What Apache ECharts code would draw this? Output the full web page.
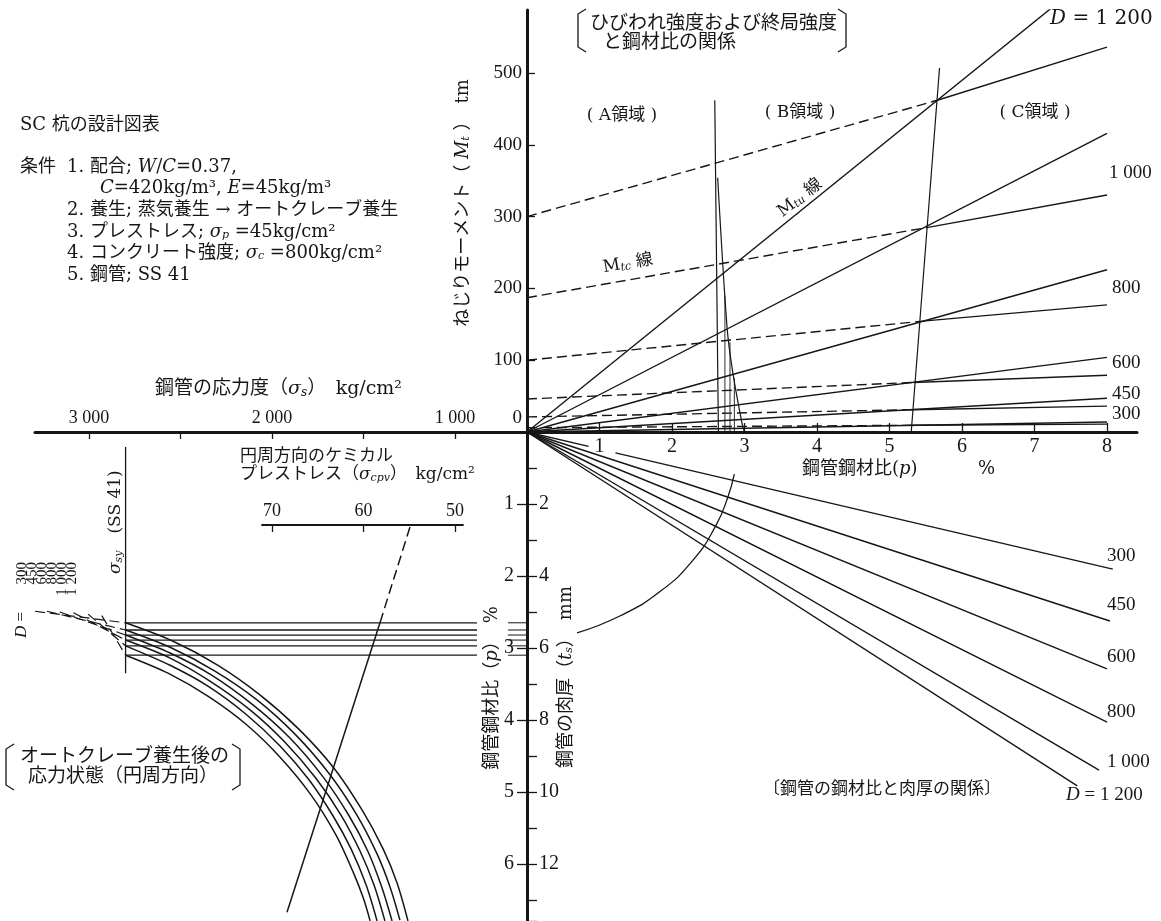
<!DOCTYPE html>
<html>
<head>
<meta charset="utf-8">
<title>SC杭の設計図表</title>
<script src="https://cdn.jsdelivr.net/npm/echarts@6.0.0/dist/echarts.min.js"></script>
<style>
html,body{margin:0;padding:0;background:#ffffff;}
#chart{width:1161px;height:921px;}
</style>
</head>
<body>
<div id="chart"></div>
<script>
// ---------------- tick values / labels ----------------
const diameters = ['300', '450', '600', '800', '1 000', '1 200'];
const sigmaSTickValues = [1000, 1500, 2000, 2500, 3000];
const sigmaSLabelValues = [1000, 2000, 3000];
const sigmaCpvTickValues = [50, 60, 70];

// ---------------- upper right: Mt (tm) vs p (%) ----------------
// ultimate torsional strength lines (Mtu), from origin
const mtu300 = [[0, 0], [8, 14]];
const mtu450 = [[0, 0], [8, 47]];
const mtu600 = [[0, 0], [8, 104]];
const mtu800 = [[0, 0], [8, 226]];
const mtu1000 = [[0, 0], [8, 416]];
const mtu1200 = [[0, 0], [8, 653]];
// cracking strength lines (Mtc): dashed part up to C boundary, solid beyond
const mtc300Dash = [[0, 6], [5.30, 9.3]];
const mtc300Solid = [[5.30, 9.3], [8, 11]];
const mtc450Dash = [[0, 21], [5.31, 31]];
const mtc450Solid = [[5.31, 31], [8, 36]];
const mtc600Dash = [[0, 46], [5.33, 69]];
const mtc600Solid = [[5.33, 69], [8, 79]];
const mtc800Dash = [[0, 100], [5.42, 154]];
const mtc800Solid = [[5.42, 154], [8, 177]];
const mtc1000Dash = [[0, 187], [5.53, 285]];
const mtc1000Solid = [[5.53, 285], [8, 330]];
const mtc1200Dash = [[0, 300], [5.66, 462]];
const mtc1200Solid = [[5.66, 462], [8, 536]];
// region boundaries
const boundaryAB = [[2.59, 462], [2.64, 0]];
const boundaryABSpike = [[2.63, 354], [2.76, 145], [2.84, 82], [2.97, 10], [3.0, 0]];
const boundaryC = [[5.69, 507], [5.30, 0]];
const dropA = [[2.73, 190], [2.73, 0]];
const dropB = [[2.80, 125], [2.80, 0]];
const dropC = [[2.86, 75], [2.86, 0]];

// ---------------- lower right: ts (mm) vs p (%) ----------------
const lr300a = [[0, 0], [0.85, 0.40]];
const lr300b = [[1.22, 0.58], [8.08, 3.81]];
const lr450 = [[0, 0], [8.04, 5.25]];
const lr600 = [[0, 0], [8.0, 6.58]];
const lr800 = [[0, 0], [8.0, 8.06]];
const lr1000 = [[0, 0], [7.89, 9.39]];
const lr1200 = [[0, 0], [7.59, 9.83]];
const leaderCurve = [[0.69, 5.58], [1.28, 5.11], [1.83, 4.44], [2.29, 3.56], [2.61, 2.58], [2.77, 1.81], [2.86, 1.17]];

// ---------------- lower left: p (%) vs sigma_s (kg/cm2) ----------------
const sigmaSYLine = [[2800, 0.21], [2800, 3.35]];
const yieldP = [2.65, 2.75, 2.82, 2.89, 2.97, 3.10];
const curve300 = [[2800, 2.65], [2546, 2.90], [2295, 3.24], [2066, 3.65], [1852, 4.13], [1661, 4.67], [1508, 5.25], [1393, 5.79], [1317, 6.26], [1257, 6.79]];
const curve450 = [[2800, 2.75], [2557, 2.99], [2312, 3.32], [2082, 3.72], [1869, 4.21], [1683, 4.76], [1536, 5.32], [1426, 5.86], [1355, 6.32], [1301, 6.78]];
const curve600 = [[2800, 2.82], [2557, 3.07], [2328, 3.38], [2104, 3.79], [1902, 4.25], [1721, 4.79], [1579, 5.33], [1475, 5.83], [1399, 6.33], [1344, 6.79]];
const curve800 = [[2800, 2.89], [2557, 3.14], [2339, 3.46], [2120, 3.86], [1929, 4.31], [1760, 4.81], [1623, 5.32], [1519, 5.82], [1443, 6.29], [1383, 6.79]];
const curve1000 = [[2800, 2.97], [2557, 3.24], [2350, 3.53], [2142, 3.92], [1956, 4.36], [1798, 4.83], [1667, 5.33], [1568, 5.79], [1486, 6.29], [1426, 6.79]];
const curve1200 = [[2800, 3.10], [2568, 3.35], [2344, 3.68], [2137, 4.07], [1951, 4.53], [1787, 5.04], [1650, 5.60], [1557, 6.11], [1503, 6.46], [1464, 6.79]];
const ext300 = [[3295, 2.49], [2800, 2.65]];
const ext450 = [[3230, 2.49], [2800, 2.75]];
const ext600 = [[3160, 2.50], [2800, 2.82]];
const ext800 = [[3085, 2.51], [2800, 2.89]];
const ext1000 = [[3005, 2.53], [2800, 2.97]];
const ext1200 = [[2930, 2.55], [2800, 3.10]];
const exampleDashed = [[1246, 1.32], [1410, 2.65]];
const exampleSolid = [[1410, 2.65], [1918, 6.67]];

// ---------------- helpers ----------------
const NUM = "'Liberation Serif','Noto Sans CJK JP',serif";
const TXT = "'DejaVu Serif','Noto Sans CJK JP',serif";
const INK = '#161616';
const spaced = v => String(v).replace(/\B(?=(\d{3})+$)/g, ' ');

function ln(data, xi, yi, o) {
  o = o || {};
  return {
    type: 'line', xAxisIndex: xi, yAxisIndex: yi, data: data,
    symbol: 'none', smooth: o.smooth || false, silent: true, animation: false, clip: true,
    lineStyle: { color: INK, width: o.w || 1.4, type: o.dash ? [10, 5] : 'solid' },
    z: 3
  };
}
function T(text, x, y, o) {
  o = o || {};
  const fs = o.fs || 17;
  const fam = o.num ? NUM : TXT;
  return {
    type: 'text', x: x, y: y, rotation: o.rot || 0, z: 50, silent: true,
    style: {
      text: text, fontFamily: fam, fontSize: fs, fill: INK,
      align: o.align || 'left', verticalAlign: o.va || 'middle',
      rich: {
        i: { fontStyle: 'italic', fontFamily: fam, fontSize: fs, fill: INK },
        s: { fontStyle: 'italic', fontFamily: fam, fontSize: Math.round(fs * 0.62), verticalAlign: 'bottom', fill: INK }
      }
    }
  };
}
function bracket(x, y0, y1, dir) {
  const d = 8 * dir;
  return {
    type: 'polyline', z: 50, silent: true,
    shape: { points: [[x + d, y0], [x, y0 + 5], [x, y1 - 5], [x + d, y1]] },
    style: { stroke: INK, lineWidth: 1.3, fill: null }
  };
}

// ---------------- series ----------------
const series = [];
// upper right (xAxis 0, yAxis 0)
[mtu300, mtu450, mtu600, mtu800, mtu1000, mtu1200].forEach(d => series.push(ln(d, 0, 0)));
[mtc300Dash, mtc450Dash, mtc600Dash, mtc800Dash, mtc1000Dash, mtc1200Dash].forEach(d => series.push(ln(d, 0, 0, { dash: true })));
[mtc300Solid, mtc450Solid, mtc600Solid, mtc800Solid, mtc1000Solid, mtc1200Solid].forEach(d => series.push(ln(d, 0, 0)));
series.push(ln(boundaryAB, 0, 0, { w: 1.2 }));
series.push(ln(boundaryABSpike, 0, 0, { w: 1.2, smooth: 0.3 }));
series.push(ln(boundaryC, 0, 0, { w: 1.2 }));
[dropA, dropB, dropC].forEach(d => series.push(ln(d, 0, 0, { w: 0.9 })));
// lower right (xAxis 1, yAxis 2 = ts)
[lr300a, lr300b, lr450, lr600, lr800, lr1000, lr1200].forEach(d => series.push(ln(d, 1, 2)));
series.push(ln(leaderCurve, 1, 2, { smooth: 0.5, w: 1.3 }));
// lower left (xAxis 2, yAxis 3)
series.push(ln(sigmaSYLine, 2, 3, { w: 1.3 }));
yieldP.forEach(p => {
  series.push(ln([[2800, p], [880, p]], 2, 3, { w: 1.3 }));
  series.push(ln([[711, p], [607, p]], 2, 3, { w: 1.0 }));
});
[curve300, curve450, curve600, curve800, curve1000, curve1200].forEach(d => series.push(ln(d, 2, 3, { smooth: 0.3, w: 1.5 })));
[ext300, ext450, ext600, ext800, ext1000, ext1200].forEach(d => series.push(ln(d, 2, 3, { dash: true, w: 1.2 })));
series.push(ln(exampleDashed, 2, 3, { dash: true, w: 1.5 }));
series.push(ln(exampleSolid, 2, 3, { w: 1.5 }));

// ---------------- axes ----------------
const axisLineThick = { show: true, onZero: false, lineStyle: { color: INK, width: 3 } };
const tickStyle = { color: INK, width: 1.3 };
const option = {
  backgroundColor: '#ffffff',
  animation: false,
  grid: [
    { left: 527, top: 10, width: 610, height: 422 },   // upper right
    { left: 527, top: 432, width: 610, height: 489 },  // lower right
    { left: 35, top: 432, width: 492, height: 489 },   // lower left
    { left: 262, top: 525, width: 201, height: 20 }    // chemical prestress scale
  ],
  xAxis: [
    {
      gridIndex: 0, type: 'value', min: 0, max: 8.414, interval: 1, position: 'bottom',
      axisLine: axisLineThick, splitLine: { show: false },
      axisTick: { inside: true, length: 9, lineStyle: tickStyle },
      axisLabel: { margin: 5, fontSize: 20, fontFamily: NUM, color: INK, showMaxLabel: false,
        formatter: v => (v === 0 || v > 8) ? '' : String(v) }
    },
    { gridIndex: 1, type: 'value', min: 0, max: 8.414, show: false },
    {
      gridIndex: 2, type: 'value', min: 606.6, max: 3295, inverse: true, position: 'top',
      axisLine: axisLineThick, splitLine: { show: false },
      axisTick: { inside: true, length: 7, lineStyle: tickStyle, customValues: sigmaSTickValues },
      axisLabel: { margin: 5, fontSize: 18, fontFamily: NUM, color: INK,
        customValues: sigmaSLabelValues, formatter: v => spaced(v) }
    },
    {
      gridIndex: 3, type: 'value', min: 49.13, max: 71.09, inverse: true, position: 'top',
      axisLine: { show: true, onZero: false, lineStyle: { color: INK, width: 1.8 } }, splitLine: { show: false },
      axisTick: { inside: true, length: 7, lineStyle: tickStyle, customValues: sigmaCpvTickValues },
      axisLabel: { margin: 5, fontSize: 18, fontFamily: NUM, color: INK,
        customValues: sigmaCpvTickValues, formatter: v => String(v) }
    }
  ],
  yAxis: [
    {
      gridIndex: 0, type: 'value', min: 0, max: 587.7, interval: 100, position: 'left',
      axisLine: axisLineThick, splitLine: { show: false },
      axisTick: { inside: true, length: 8, lineStyle: tickStyle },
      axisLabel: { margin: 5, fontSize: 19, fontFamily: NUM, color: INK, showMaxLabel: false,
        formatter: v => v === 0 ? '{z|0}' : (v > 500 ? '' : String(v)),
        rich: { z: { padding: [0, 0, 28, 0], fontSize: 19, fontFamily: NUM, color: INK } } }
    },
    {
      gridIndex: 1, type: 'value', min: 0, max: 6.792, inverse: true, interval: 1, position: 'left',
      axisLine: axisLineThick, splitLine: { show: false },
      axisTick: { inside: false, length: 10, lineStyle: tickStyle },
      axisLabel: { margin: 13, fontSize: 20, fontFamily: NUM, color: INK, showMaxLabel: false,
        formatter: v => (v === 0 || v > 6) ? '' : String(v) }
    },
    {
      gridIndex: 1, type: 'value', min: 0, max: 13.583, inverse: true, interval: 2, position: 'left',
      axisLine: { show: false, onZero: false }, splitLine: { show: false },
      axisTick: { inside: true, length: 10, lineStyle: tickStyle },
      minorTick: { show: true, splitNumber: 2, length: 10, lineStyle: tickStyle },
      axisLabel: { inside: true, margin: 12, fontSize: 20, fontFamily: NUM, color: INK, showMaxLabel: false,
        formatter: v => (v === 0 || v > 12) ? '' : String(v) }
    },
    { gridIndex: 2, type: 'value', min: 0, max: 6.792, inverse: true, show: false },
    { gridIndex: 3, type: 'value', min: 0, max: 1, show: false }
  ],
  series: series,
  graphic: { elements: [
    // upper-left description
    T('SC 杭の設計図表', 20, 125, { fs: 18 }),
    T('条件', 20, 167, { fs: 18 }),
    T('1. 配合; {i|W}/{i|C}=0.37,', 67, 167, { fs: 18 }),
    T('{i|C}=420kg/m³, {i|E}=45kg/m³', 100, 188, { fs: 18 }),
    T('2. 養生; 蒸気養生 → オートクレーブ養生', 67, 210, { fs: 18 }),
    T('3. プレストレス; {i|σ}{s|p} =45kg/cm²', 67, 232, { fs: 18 }),
    T('4. コンクリート強度; {i|σ}{s|c} =800kg/cm²', 67, 253, { fs: 18 }),
    T('5. 鋼管; SS 41', 67, 275, { fs: 18 }),
    // title upper right
    bracket(578, 9, 52, 1),
    T('ひびわれ強度および終局強度', 590, 24, { fs: 19 }),
    T('と鋼材比の関係', 603, 43, { fs: 19 }),
    bracket(846, 9, 52, -1),
    T('{i|D} = 1 200', 1050, 19, { fs: 20 }),
    T('( A領域 )', 622, 116, { align: 'center', fs: 17 }),
    T('( B領域 )', 800, 113, { align: 'center', fs: 17 }),
    T('( C領域 )', 1035, 113, { align: 'center', fs: 17 }),
    T('M{s|tu} 線', 800, 198, { align: 'center', rot: 0.66, fs: 17 }),
    T('M{s|tc} 線', 603, 268, { rot: 0.17, fs: 17 }),
    T('1 000', 1109, 173, { fs: 19, num: true }), T('800', 1112, 288, { fs: 19, num: true }),
    T('600', 1112, 363, { fs: 19, num: true }), T('450', 1112, 394, { fs: 19, num: true }),
    T('300', 1112, 414, { fs: 19, num: true }),
    // axis names
    T('ねじりモーメント（ {i|M}{s|t} ）　tm', 463, 203, { align: 'center', rot: Math.PI / 2, fs: 18 }),
    T('鋼管鋼材比({i|p})', 802, 469, { fs: 18 }),
    T('%', 978, 469, { fs: 18 }),
    T('鋼管の応力度（{i|σ}{s|s}）　kg/cm²', 155, 389, { fs: 19 }),
    T('円周方向のケミカル', 240, 457, { fs: 17 }),
    T('プレストレス（{i|σ}{s|cpv}）　kg/cm²', 240, 475, { fs: 17 }),
    T('鋼管鋼材比（{i|p}）　%', 492, 688, { align: 'center', rot: Math.PI / 2, fs: 18 }),
    T('鋼管の肉厚（{i|t}{s|s}）　mm', 566, 677, { align: 'center', rot: Math.PI / 2, fs: 18 }),
    // lower right
    T('300', 1107, 556, { fs: 19, num: true }), T('450', 1107, 605, { fs: 19, num: true }),
    T('600', 1107, 657, { fs: 19, num: true }), T('800', 1107, 712, { fs: 19, num: true }),
    T('1 000', 1107, 762, { fs: 19, num: true }),
    T('{i|D} = 1 200', 1066, 795, { fs: 19, num: true }),
    T('〔鋼管の鋼材比と肉厚の関係〕', 882, 790, { align: 'center', fs: 17 }),
    // lower left
    T('{i|σ}{s|sy}　(SS 41)', 116, 574, { rot: Math.PI / 2, fs: 17 }),
    T('300', 22, 562, { align: 'right', rot: Math.PI / 2, fs: 15, num: true }),
    T('450', 32, 562, { align: 'right', rot: Math.PI / 2, fs: 15, num: true }),
    T('600', 42, 562, { align: 'right', rot: Math.PI / 2, fs: 15, num: true }),
    T('800', 52, 562, { align: 'right', rot: Math.PI / 2, fs: 15, num: true }),
    T('1 000', 62, 562, { align: 'right', rot: Math.PI / 2, fs: 15, num: true }),
    T('1 200', 72, 562, { align: 'right', rot: Math.PI / 2, fs: 15, num: true }),
    T('{i|D} =', 22, 612, { align: 'right', rot: Math.PI / 2, fs: 17, num: true }),
    bracket(6, 744, 790, 1),
    T('オートクレーブ養生後の', 20, 757, { fs: 19 }),
    T('応力状態（円周方向）', 28, 777, { fs: 19 }),
    bracket(240, 744, 790, -1)
  ] }
};

const chart = echarts.init(document.getElementById('chart'), null, { renderer: 'canvas' });
chart.setOption(option);
</script>
</body>
</html>
